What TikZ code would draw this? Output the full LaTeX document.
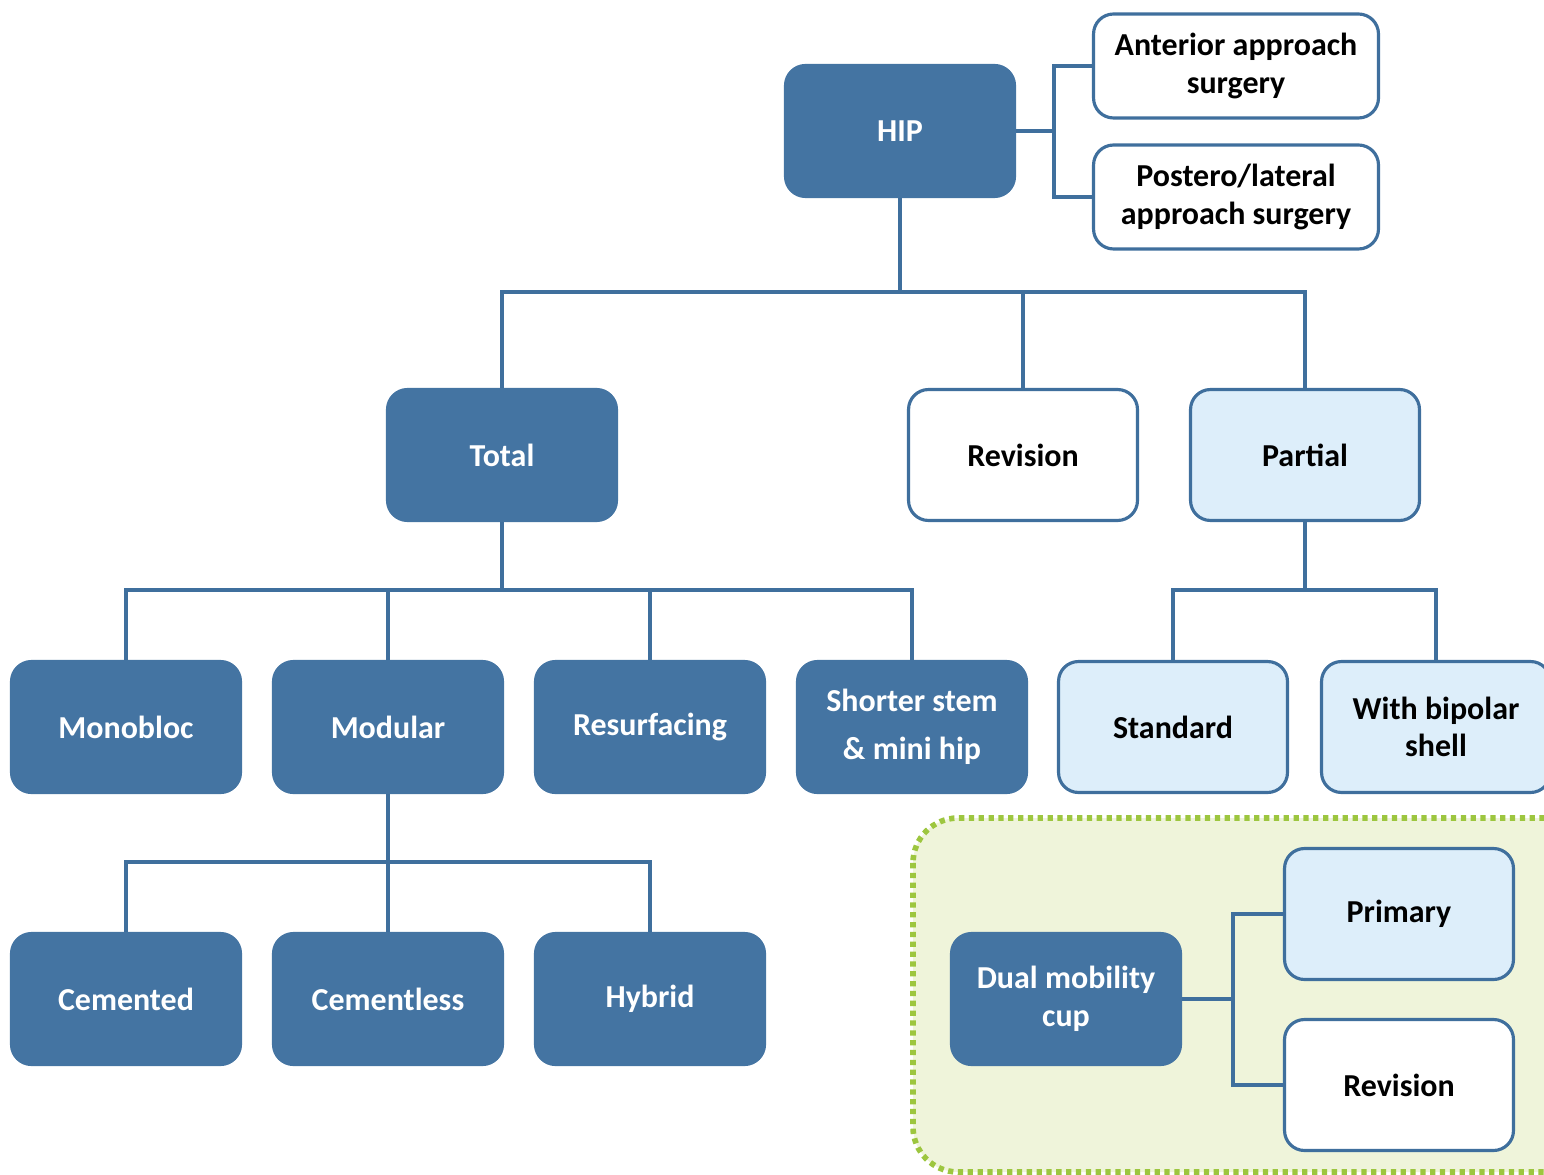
\documentclass[tikz,border=0pt]{standalone}
\usepackage{fontspec}
\setmainfont{Carlito}
\definecolor{hipblue}{HTML}{4474A2}
\definecolor{hipline}{HTML}{3F6F9D}
\definecolor{hiplight}{HTML}{DDEEFA}
\definecolor{hipgreen}{HTML}{9DC63F}
\definecolor{hipback}{HTML}{EFF4DA}

\begin{document}
\begin{tikzpicture}[
  x=0.02cm,y=-0.02cm,
  box/.style={draw=hipline,line width=1.8pt,rounded corners=0.4cm,align=center,
    minimum width=4.58cm,minimum height=2.62cm,inner sep=2pt,
    font=\bfseries\fontsize{18.2}{21.5}\selectfont},
  dark/.style={box,fill=hipblue,draw=hipblue,text=white},
  light/.style={box,fill=hiplight},
  plain/.style={box,fill=white},
  wide/.style={minimum width=5.7cm,minimum height=2.08cm},
  link/.style={draw=hipline,line width=2.1pt}
  ]
  \clip (0,0) rectangle (1544,1175);
  \path[draw=hipgreen,fill=hipback,line width=3.2pt,dash pattern=on 3pt off 2.6pt,
    rounded corners=0.9cm] (913,818) rectangle (1620,1172);

  \node[dark]  (NRoot)  at (900,131)  {HIP};
  \node[plain,wide] (NRootA) at (1236,66)  {Anterior approach\\surgery};
  \node[plain,wide] (NRootP) at (1236,197) {Postero/lateral\\approach surgery};

  \node[dark]  (N1L) at (502,455)  {Total};
  \node[plain] (N1M) at (1023,455) {Revision};
  \node[light] (N1R) at (1305,455) {Partial};

  \node[dark] (N1L2A) at (126,727) {Monobloc};
  \node[dark] (N1L2B) at (388,727) {Modular};
  \node[dark] (N1L2C) at (650,727) {Resurfacing};
  \node[dark,font=\bfseries\fontsize{18.2}{27}\selectfont]
    (N1L2D) at (912,727) {Shorter stem\\\& mini hip};
  \node[light] (N1R2L) at (1173,727) {Standard};
  \node[light] (N1R2R) at (1436,727) {With bipolar\\shell};

  \node[dark] (N1L2B3A) at (126,999) {Cemented};
  \node[dark] (N1L2B3B) at (388,999) {Cementless};
  \node[dark] (N1L2B3C) at (650,999) {Hybrid};

  \node[dark]  (NDual)  at (1066,999)  {Dual mobility\\cup};
  \node[light] (NDualP) at (1399,914)  {Primary};
  \node[plain] (NDualR) at (1399,1085) {Revision};

  \coordinate (NRootF)  at (900,292);
  \coordinate (NRootB)  at (1054,131);
  \coordinate (N1LF)    at (502,590);
  \coordinate (N1RF)    at (1305,590);
  \coordinate (N1L2BF)  at (388,862);
  \coordinate (NDualB)  at (1233,999);

  \path[link]
  (NRoot.east)  -- (NRootB) |- (NRootA.west)
  (NRootB)      |- (NRootP.west)
  (NRoot.south) -- (NRootF) -| (N1L.north)
  (NRootF)      -| (N1M.north)
  (NRootF)      -| (N1R.north)
  (N1L.south)   -- (N1LF) -| (N1L2A.north)
  (N1LF)        -| (N1L2B.north)
  (N1LF)        -| (N1L2C.north)
  (N1LF)        -| (N1L2D.north)
  (N1R.south)   -- (N1RF) -| (N1R2L.north)
  (N1RF)        -| (N1R2R.north)
  (N1L2B.south) -- (N1L2BF) -| (N1L2B3A.north)
  (N1L2BF)      -| (N1L2B3B.north)
  (N1L2BF)      -| (N1L2B3C.north)
  (NDual.east)  -- (NDualB) |- (NDualP.west)
  (NDualB)      |- (NDualR.west)
  ;
\end{tikzpicture}
\end{document}
